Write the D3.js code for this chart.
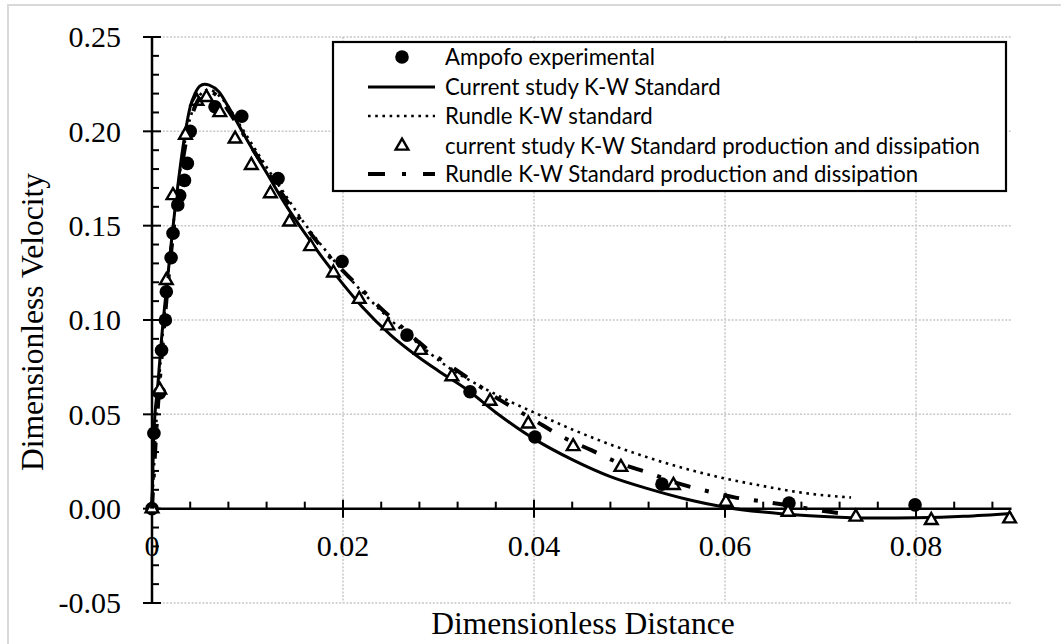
<!DOCTYPE html>
<html><head><meta charset="utf-8">
<script src="https://cdn.jsdelivr.net/npm/d3@7"></script>
<style>body{margin:0;background:#fff}svg{display:block}</style>
</head><body>
<svg id="chart" width="1061" height="644"></svg>
<script>
// ---- data ----
const seriesNames = ["Ampofo experimental","Current study K-W Standard","Rundle K-W standard","current study K-W Standard production and dissipation","Rundle K-W Standard production and dissipation"];
const xTicks = [0, 0.02, 0.04, 0.06, 0.08];
const xTickLabels = ["0","0.02","0.04","0.06","0.08"];
const yTicks = [-0.05, 0, 0.05, 0.10, 0.15, 0.20, 0.25];
const yTickLabels = ["-0.05","0.00","0.05","0.10","0.15","0.20","0.25"];

const ampofoX = [0,0.0002,0.0008,0.0010,0.0014,0.0015,0.0020,0.0022,0.0027,0.0029,0.0034,0.0037,0.0040,0.0066,0.0094,0.0132,0.0199,0.0267,0.0333,0.0401,0.0534,0.0667,0.0799];
const ampofoY = [0,0.040,0.0614,0.084,0.100,0.115,0.133,0.146,0.161,0.166,0.174,0.183,0.200,0.213,0.208,0.175,0.131,0.092,0.062,0.038,0.013,0.003,0.002];

const currentX = [0,0.0002,0.0006,0.001,0.0015,0.002,0.0025,0.003,0.0035,0.004,0.0045,0.005,0.0055,0.006,0.007,0.008,0.009,0.010,0.012,0.014,0.016,0.018,0.020,0.022,0.025,0.028,0.030,0.033,0.036,0.040,0.044,0.048,0.052,0.056,0.060,0.064,0.068,0.072,0.076,0.080,0.085,0.090];
const currentY = [0,0.040,0.065,0.090,0.116,0.140,0.163,0.183,0.200,0.213,0.220,0.224,0.225,0.2245,0.221,0.213,0.204,0.195,0.178,0.161,0.146,0.132,0.119,0.107,0.092,0.080,0.073,0.063,0.051,0.037,0.026,0.017,0.0105,0.005,0.0008,-0.0018,-0.0035,-0.0045,-0.005,-0.0048,-0.004,-0.0025];

const rundleX = [0,0.0005,0.001,0.0015,0.002,0.0025,0.003,0.0035,0.004,0.0045,0.005,0.0055,0.006,0.007,0.008,0.009,0.010,0.012,0.014,0.016,0.018,0.020,0.022,0.025,0.028,0.031,0.034,0.037,0.040,0.044,0.048,0.052,0.056,0.060,0.064,0.068,0.0732];
const rundleY = [0,0.050,0.085,0.114,0.140,0.162,0.181,0.196,0.207,0.214,0.219,0.2215,0.222,0.219,0.213,0.205,0.197,0.181,0.166,0.151,0.138,0.126,0.115,0.100,0.087,0.075,0.066,0.058,0.051,0.042,0.034,0.027,0.021,0.016,0.012,0.0085,0.0059];

const currentPDX = [0,0.0008,0.0015,0.0022,0.0035,0.0047,0.0057,0.0071,0.0087,0.0104,0.0124,0.0144,0.0166,0.0190,0.0217,0.0247,0.0281,0.0314,0.0354,0.0394,0.0441,0.0491,0.0546,0.0601,0.0666,0.0737,0.0816,0.0898];
const currentPDY = [0,0.063,0.121,0.166,0.198,0.216,0.218,0.210,0.196,0.182,0.167,0.152,0.139,0.125,0.111,0.097,0.084,0.070,0.057,0.045,0.033,0.022,0.0124,0.0035,-0.0018,-0.0044,-0.0062,-0.0053];

const rundlePDX = [0,0.0005,0.001,0.0015,0.002,0.0025,0.003,0.0035,0.004,0.0045,0.005,0.0055,0.006,0.007,0.008,0.009,0.010,0.012,0.014,0.016,0.018,0.020,0.022,0.024,0.026,0.028,0.030,0.032,0.034,0.036,0.038,0.040,0.043,0.046,0.049,0.052,0.055,0.058,0.061,0.064,0.067,0.070,0.073];
const rundlePDY = [0,0.045,0.080,0.110,0.136,0.158,0.177,0.193,0.205,0.213,0.218,0.2205,0.221,0.218,0.211,0.203,0.195,0.179,0.164,0.150,0.137,0.126,0.116,0.106,0.097,0.088,0.080,0.073,0.066,0.059,0.053,0.047,0.038,0.031,0.024,0.019,0.0135,0.0095,0.006,0.0038,0.0015,-0.001,-0.003];

// ---- layout ----
const svg = d3.select("#chart");
const x = d3.scaleLinear().domain([0, 0.09]).range([152, 1011.5]);
const y = d3.scaleLinear().domain([-0.05, 0.25]).range([603, 37]);
const zip = (a, b) => a.map((v, i) => [v, b[i]]);

// outer border
svg.append("path").attr("d", "M8,650 L8,5 L1070,5").attr("fill", "none").attr("stroke", "#d9d9d9").attr("stroke-width", 2);

// gridlines
const grid = svg.append("g").attr("stroke", "#c8c8c8").attr("stroke-width", 1.5).attr("stroke-dasharray", "2,1.6");
yTicks.filter(v => v !== 0).forEach(v => {
  grid.append("line").attr("x1", x(0)).attr("x2", x(0.09)).attr("y1", y(v)).attr("y2", y(v));
});
xTicks.filter(v => v !== 0).forEach(v => {
  grid.append("line").attr("x1", x(v)).attr("x2", x(v)).attr("y1", y(0.25)).attr("y2", y(-0.05));
});

// axes
const ax = svg.append("g").attr("stroke", "#000").attr("stroke-width", 2.5);
ax.append("line").attr("x1", x(0)).attr("x2", x(0)).attr("y1", y(0.25)).attr("y2", y(-0.05));
ax.append("line").attr("x1", x(0)).attr("x2", x(0.09)).attr("y1", y(0)).attr("y2", y(0));
// y ticks
d3.range(-0.05, 0.2501, 0.01).forEach(v => {
  const major = Math.abs(Math.round(v * 100) % 5) === 0;
  ax.append("line").attr("x1", major ? x(0) - 9 : x(0)).attr("x2", major ? x(0) + 9 : x(0) + 7)
    .attr("y1", y(v)).attr("y2", y(v)).attr("stroke-width", 2);
});
// x ticks
d3.range(0, 0.0901, 0.004).forEach(v => {
  const major = Math.abs(Math.round(v * 1000) % 20) === 0;
  if (v === 0) return;
  ax.append("line").attr("x1", x(v)).attr("x2", x(v))
    .attr("y1", major ? y(0) - 9 : y(0) - 7).attr("y2", major ? y(0) + 9 : y(0)).attr("stroke-width", 2);
});

// tick labels
const serif = "'Liberation Serif','Times New Roman',serif";
svg.append("g").selectAll("text").data(yTicks).join("text")
  .attr("x", 121).attr("y", d => y(d)).attr("dy", "0.34em").attr("text-anchor", "end")
  .attr("font-family", serif).attr("font-size", 30).attr("fill", "#000")
  .text((d, i) => yTickLabels[i]);
svg.append("g").selectAll("text").data(xTicks).join("text")
  .attr("x", d => x(d)).attr("y", 556).attr("text-anchor", "middle")
  .attr("font-family", serif).attr("font-size", 30).attr("fill", "#000")
  .text((d, i) => xTickLabels[i]);

// titles
svg.append("text").attr("x", 583).attr("y", 634).attr("text-anchor", "middle")
  .attr("font-family", serif).attr("font-size", 31.5).text("Dimensionless Distance");
svg.append("text").attr("transform", "translate(43,322) rotate(-90)").attr("text-anchor", "middle")
  .attr("font-family", serif).attr("font-size", 31.5).text("Dimensionless Velocity");

// ---- series ----
const line = d3.line().x(d => x(d[0])).y(d => y(d[1])).curve(d3.curveMonotoneX);
const plot = svg.append("g");

// Ampofo circles
plot.append("g").selectAll("circle").data(zip(ampofoX, ampofoY)).join("circle")
  .attr("cx", d => x(d[0])).attr("cy", d => y(d[1])).attr("r", 6.8).attr("fill", "#000");

// current study solid
plot.append("path").datum(zip(currentX, currentY)).attr("d", line)
  .attr("fill", "none").attr("stroke", "#000").attr("stroke-width", 3);

// Rundle dotted
plot.append("path").datum(zip(rundleX, rundleY)).attr("d", line)
  .attr("fill", "none").attr("stroke", "#000").attr("stroke-width", 2.6).attr("stroke-dasharray", "2.6,4.6");

// triangles
const tri = d3.symbol().type(d3.symbolTriangle).size(70);
plot.append("g").selectAll("path").data(zip(currentPDX, currentPDY)).join("path")
  .attr("d", tri).attr("transform", d => `translate(${x(d[0])},${y(d[1])})`)
  .attr("fill", "#fff").attr("stroke", "#000").attr("stroke-width", 2.4);

// Rundle dash-dot
plot.append("path").datum(zip(rundlePDX, rundlePDY)).attr("d", line)
  .attr("fill", "none").attr("stroke", "#000").attr("stroke-width", 4).attr("stroke-dasharray", "16,15,4,15");

// ---- legend ----
const lg = svg.append("g");
lg.append("rect").attr("x", 333).attr("y", 42).attr("width", 673).attr("height", 149)
  .attr("fill", "#fff").attr("stroke", "#000").attr("stroke-width", 2.2);
const rows = [57, 87, 116, 146, 174];
const sx = 402;
lg.append("circle").attr("cx", sx).attr("cy", rows[0]).attr("r", 6.8).attr("fill", "#000");
lg.append("line").attr("x1", 368).attr("x2", 435).attr("y1", rows[1]).attr("y2", rows[1]).attr("stroke", "#000").attr("stroke-width", 3);
lg.append("line").attr("x1", 368).attr("x2", 435).attr("y1", rows[2]).attr("y2", rows[2]).attr("stroke", "#000").attr("stroke-width", 2.6).attr("stroke-dasharray", "2.6,4.6");
lg.append("path").attr("d", tri).attr("transform", `translate(${sx},${rows[3]})`).attr("fill", "#fff").attr("stroke", "#000").attr("stroke-width", 2.4);
lg.append("line").attr("x1", 368).attr("x2", 435).attr("y1", rows[4]).attr("y2", rows[4]).attr("stroke", "#000").attr("stroke-width", 4).attr("stroke-dasharray", "17,17,4,17");

const texts = lg.selectAll("text.lt").data(seriesNames).join("text").attr("class", "lt")
  .attr("x", 445).attr("y", (d, i) => rows[i]).attr("dy", "0.35em")
  .attr("font-family", "Lato, 'Open Sans', sans-serif").attr("font-size", 20).attr("fill", "#000")
  .text(d => d);
// fit legend font to the reference width of the longest entry
const longest = texts.filter((d, i) => i === 3).node().getComputedTextLength();
const fs = 20 * 535 / longest;
texts.attr("font-size", fs);
</script>
</body></html>
